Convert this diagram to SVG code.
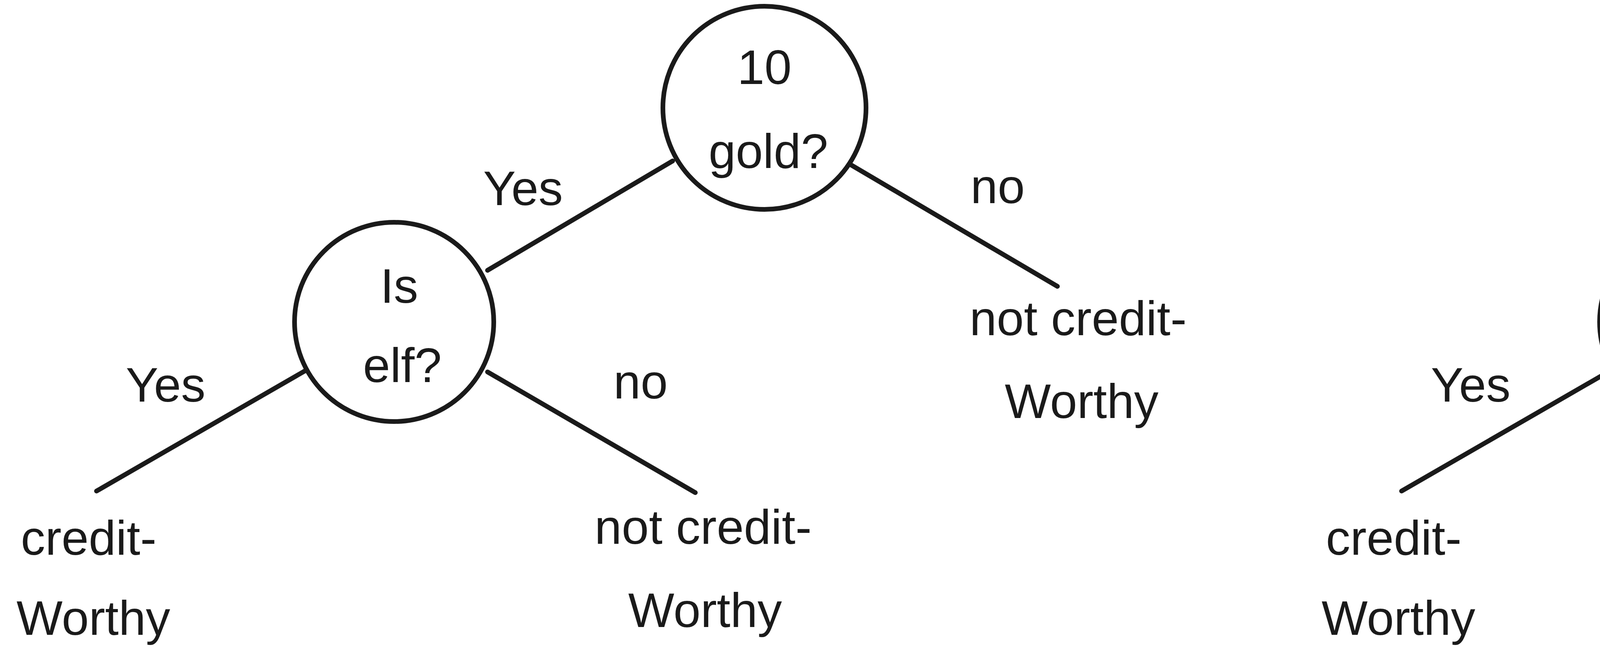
<svg xmlns="http://www.w3.org/2000/svg" width="6460" height="1692" viewBox="0 0 6460 1692">
<style>
.n{fill:#fff;stroke:#1a1a1a;stroke-width:12}
.e{stroke:#1a1a1a;stroke-width:12;fill:none;stroke-linecap:round}
text{font-family:"Liberation Sans","DejaVu Sans",sans-serif;font-size:125px;fill:#1a1a1a;text-anchor:middle}
</style>
<rect width="6460" height="1692" fill="#fff"/>
<g id="connectors">
<line class="e" x1="1722" y1="412" x2="1248" y2="692"/>
<line class="e" x1="2175" y1="420" x2="2707" y2="733"/>
<line class="e" x1="783" y1="948" x2="247" y2="1257"/>
<line class="e" x1="1248" y1="952" x2="1780" y2="1261"/>
<line class="e" x1="5063" y1="412" x2="4589" y2="692"/>
<line class="e" x1="5516" y1="420" x2="6048" y2="733"/>
<line class="e" x1="4124" y1="948" x2="3588" y2="1257"/>
<line class="e" x1="4589" y1="952" x2="5121" y2="1261"/>
</g>
<g id="labels">
<text x="1339" y="525">Yes</text><text x="2554" y="520">no</text>
<text x="424" y="1028">Yes</text><text x="1640" y="1020">no</text>
<text x="4680" y="525">Yes</text><text x="5895" y="520">no</text>
<text x="3765" y="1028">Yes</text><text x="4981" y="1020">no</text>
</g>
<g id="L_root"><circle class="n" cx="1957" cy="276" r="260"/><text x="1957" y="215">10</text><text x="1967" y="430">gold?</text></g>
<g id="L_elf"><circle class="n" cx="1009" cy="824" r="255"/><text x="1022" y="775">Is</text><text x="1030" y="978">elf?</text></g>
<g id="L_nc1"><text x="2760" y="858">not credit-</text><text x="2769" y="1070">Worthy</text></g>
<g id="L_c"><text x="227" y="1420">credit-</text><text x="239" y="1625">Worthy</text></g>
<g id="L_nc2"><text x="1800" y="1392">not credit-</text><text x="1805" y="1605">Worthy</text></g>
<g id="R_root"><circle class="n" cx="5298" cy="276" r="260"/><text x="5298" y="215">Is</text><text x="5300" y="430">elf?</text></g>
<g id="R_gold"><circle class="n" cx="4350" cy="824" r="255"/><text x="4363" y="775">10</text><text x="4371" y="978">gold?</text></g>
<g id="R_nc1"><text x="6101" y="858">not credit-</text><text x="6110" y="1070">Worthy</text></g>
<g id="R_c"><text x="3568" y="1420">credit-</text><text x="3580" y="1625">Worthy</text></g>
<g id="R_nc2"><text x="5141" y="1392">not credit-</text><text x="5146" y="1605">Worthy</text></g>
</svg>
